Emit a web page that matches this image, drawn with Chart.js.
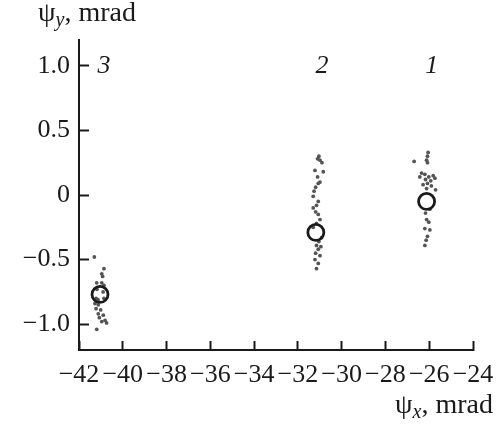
<!DOCTYPE html>
<html>
<head>
<meta charset="utf-8">
<script src="https://cdn.jsdelivr.net/npm/chart.js@4/dist/chart.umd.min.js"></script>
<style>
  html, body { margin: 0; padding: 0; background: #fff; }
  canvas { display: block; }
</style>
</head>
<body>
<canvas id="chart" width="503" height="426"></canvas>
<script>
// ---- data ----
// group 3 (left)
const x3 = [-41.30, -40.86, -40.96, -40.92, -41.19, -40.96, -40.86, -41.18, -40.90, -41.22, -40.86, -41.13,
            -41.27, -41.12, -41.22, -41.01, -41.12, -40.89, -41.07, -40.81, -40.96, -40.74, -41.19];
const y3 = [-0.48, -0.57, -0.61, -0.63, -0.68, -0.68, -0.70, -0.73, -0.75, -0.80, -0.80, -0.81,
            -0.84, -0.85, -0.88, -0.89, -0.92, -0.93, -0.95, -0.97, -0.98, -0.99, -1.04];
// group 2 (middle)
const x2 = [-31.10, -30.99, -31.04, -30.90, -31.22, -30.84, -31.10, -30.99, -31.07, -31.19, -31.26, -31.30,
            -31.07, -31.15, -31.30, -31.19, -31.07, -30.99, -31.15, -31.30, -30.92, -31.04, -31.15, -30.95,
            -31.07, -31.19, -30.99, -31.22, -31.07, -31.15];
const y2 = [0.28, 0.27, 0.30, 0.25, 0.19, 0.18, 0.14, 0.10, 0.09, 0.06, 0.03, -0.01,
            -0.05, -0.08, -0.10, -0.13, -0.15, -0.19, -0.22, -0.25, -0.33, -0.36, -0.39, -0.40,
            -0.42, -0.45, -0.47, -0.50, -0.53, -0.57];
// group 1 (right)
const x1 = [-26.05, -26.08, -26.12, -26.08, -26.69, -26.35, -26.20, -26.02, -25.82, -26.43, -26.17, -25.93,
            -25.74, -26.08, -26.28, -25.90, -26.12, -25.71, -25.97, -26.17, -26.12, -26.02, -26.20, -25.97,
            -26.08, -26.14, -26.20];
const y1 = [0.33, 0.30, 0.27, 0.25, 0.26, 0.17, 0.16, 0.14, 0.15, 0.14, 0.12, 0.11,
            0.13, 0.09, 0.08, 0.07, 0.05, 0.04, -0.11, -0.14, -0.19, -0.21, -0.26, -0.27,
            -0.32, -0.35, -0.39];

// mean positions (open circles)
const meanX = [-26.12, -31.18, -41.04];
const meanY = [-0.05, -0.29, -0.77];

// group numbers at the top
const groupNames = ['1', '2', '3'];
const groupNameX = [-25.88, -30.90, -40.86];
const groupNameY = [1.0, 1.0, 1.0];

// axes
const xTicks = [-42, -40, -38, -36, -34, -32, -30, -28, -26, -24];
const xTickLabels = ['\u221242', '\u221240', '\u221238', '\u221236', '\u221234', '\u221232', '\u221230', '\u221228', '\u221226', '\u221224'];
const yTicks = [-1.0, -0.5, 0, 0.5, 1.0];
const yTickLabels = ['\u22121.0', '\u22120.5', '0', '0.5', '1.0'];
const xTitle = ['\u03C8', 'x', ', mrad'];
const yTitle = ['\u03C8', 'y', ', mrad'];

const toPoints = (xs, ys) => xs.map((x, i) => ({ x: x, y: ys[i] }));

const SERIF = '"Liberation Serif", "DejaVu Serif", serif';
const INK = '#1a1a1a';
const DOT = '#555';

// ψ with italic subscript, followed by ", mrad"
function drawTitle(ctx, parts, x, baseline, align) {
  const big = '28px ' + SERIF;
  const sub = 'italic 20px ' + SERIF;
  ctx.font = big;
  const w0 = ctx.measureText(parts[0]).width;
  const w2 = ctx.measureText(parts[2]).width;
  ctx.font = sub;
  const w1 = ctx.measureText(parts[1]).width;
  let left = align === 'right' ? x - (w0 + w1 + w2) : x;
  ctx.textAlign = 'left';
  ctx.textBaseline = 'alphabetic';
  ctx.fillStyle = INK;
  ctx.font = big;
  ctx.fillText(parts[0], left, baseline);
  ctx.font = sub;
  ctx.fillText(parts[1], left + w0, baseline + 5);
  ctx.font = big;
  ctx.fillText(parts[2], left + w0 + w1, baseline);
}

const annotations = {
  id: 'annotations',
  afterDraw(chart) {
    const { ctx, scales } = chart;
    ctx.save();
    ctx.fillStyle = INK;
    ctx.font = 'italic 26px ' + SERIF;
    ctx.textAlign = 'center';
    ctx.textBaseline = 'middle';
    groupNames.forEach((t, i) => {
      ctx.fillText(t, scales.x.getPixelForValue(groupNameX[i]), scales.y.getPixelForValue(groupNameY[i]));
    });
    drawTitle(ctx, yTitle, 38, 21, 'left');
    drawTitle(ctx, xTitle, 493, 413, 'right');
    ctx.restore();
  }
};

new Chart(document.getElementById('chart'), {
  type: 'scatter',
  data: {
    datasets: [
      {
        label: 'means',
        data: toPoints(meanX, meanY),
        pointRadius: 8,
        pointBorderWidth: 2.8,
        borderColor: INK,
        backgroundColor: 'rgba(255,255,255,0)',
        order: 0
      },
      {
        label: '1',
        data: toPoints(x1, y1),
        pointRadius: 1.9,
        pointBorderWidth: 0,
        backgroundColor: DOT,
        order: 1
      },
      {
        label: '2',
        data: toPoints(x2, y2),
        pointRadius: 1.9,
        pointBorderWidth: 0,
        backgroundColor: DOT,
        order: 1
      },
      {
        label: '3',
        data: toPoints(x3, y3),
        pointRadius: 1.9,
        pointBorderWidth: 0,
        backgroundColor: DOT,
        order: 1
      }
    ]
  },
  options: {
    responsive: false,
    animation: false,
    layout: { padding: { top: 40, right: 30, bottom: 36, left: 0 } },
    plugins: {
      legend: { display: false },
      tooltip: { enabled: false }
    },
    scales: {
      x: {
        type: 'linear',
        min: -42,
        max: -24,
        afterBuildTicks: s => { s.ticks = xTicks.map(v => ({ value: v })); },
        afterFit: s => { s.height = 40; s.paddingLeft = 0; s.paddingRight = 0; },
        // negative tick length turns the tick marks into the plot
        grid: { drawOnChartArea: false, drawTicks: true, tickLength: -9, tickWidth: 2, tickColor: INK },
        border: { color: INK, width: 2 },
        ticks: {
          autoSkip: false,
          maxRotation: 0,
          minRotation: 0,
          padding: 19,
          color: INK,
          font: { family: SERIF, size: 26 },
          callback: (v, i) => xTickLabels[i]
        }
      },
      y: {
        type: 'linear',
        min: -1.2,
        max: 1.2,
        afterBuildTicks: s => { s.ticks = yTicks.map(v => ({ value: v })); },
        afterFit: s => { s.width = 79; s.paddingTop = 0; s.paddingBottom = 0; },
        grid: { drawOnChartArea: false, drawTicks: true, tickLength: -10, tickWidth: 2, tickColor: INK },
        border: { color: INK, width: 2 },
        ticks: {
          padding: 19,
          color: INK,
          font: { family: SERIF, size: 26 },
          callback: (v, i) => yTickLabels[i]
        }
      }
    }
  },
  plugins: [annotations]
});
</script>
</body>
</html>
